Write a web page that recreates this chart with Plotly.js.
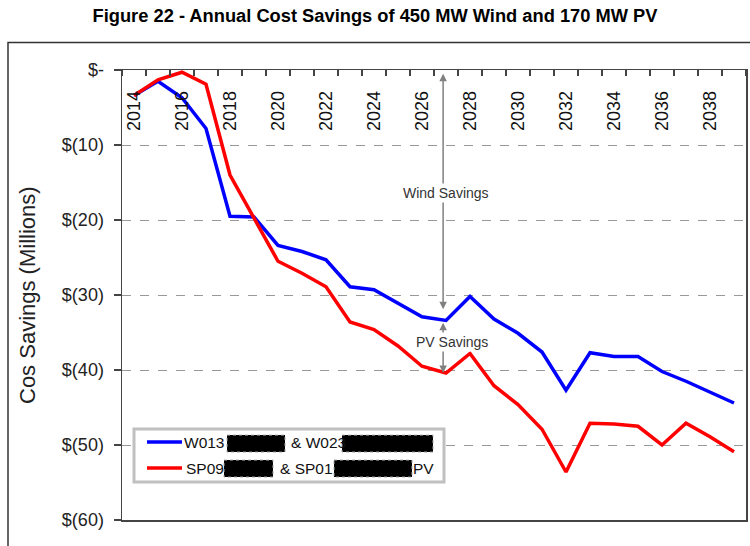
<!DOCTYPE html>
<html>
<head>
<meta charset="utf-8">
<script src="https://cdn.plot.ly/plotly-3.0.1.min.js"></script>
<style>
  html, body { margin: 0; padding: 0; background: #fff; }
  #chart { width: 750px; height: 546px; }
</style>
</head>
<body>
<div id="chart"></div>
<script>
// ---- data ----
const years = [2014, 2015, 2016, 2017, 2018, 2019, 2020, 2021, 2022, 2023, 2024, 2025, 2026,
               2027, 2028, 2029, 2030, 2031, 2032, 2033, 2034, 2035, 2036, 2037, 2038, 2039];
const windSavings = [-3.4, -1.5, -3.7, -7.8, -19.5, -19.6, -23.4, -24.2, -25.3, -28.9, -29.3, -31.1, -32.9,
                     -33.4, -30.2, -33.2, -35.1, -37.6, -42.7, -37.7, -38.2, -38.2, -40.2, -41.5, -42.9, -44.4];
const windPvSavings = [-3.4, -1.3, -0.3, -1.9, -14.0, -19.7, -25.5, -27.1, -28.9, -33.6, -34.6, -36.8, -39.5,
                       -40.4, -37.8, -42.1, -44.6, -47.9, -53.6, -47.1, -47.2, -47.5, -50.0, -47.1, -48.9, -50.9];
const xTickVals = [2014, 2016, 2018, 2020, 2022, 2024, 2026, 2028, 2030, 2032, 2034, 2036, 2038];
const xTickText = ['2014', '2016', '2018', '2020', '2022', '2024', '2026', '2028', '2030', '2032', '2034', '2036', '2038'];
const yTickVals = [0, -10, -20, -30, -40, -50, -60];
const yTickText = ['$-', '$(10)', '$(20)', '$(30)', '$(40)', '$(50)', '$(60)'];
const seriesNames = ['W013 & W023', 'SP09 & SP01 PV'];

// ---- geometry helpers ----
const W = 750, H = 546;
const L = 122, R = 746, T = 69.5, B = 520;
const pw = R - L, ph = B - T;
const px = v => (v - L) / pw;
const py = v => (B - v) / ph;

const FONT = 'Liberation Sans, Arial, sans-serif';

const traces = [
  { x: years, y: windSavings, name: seriesNames[0], type: 'scatter', mode: 'lines',
    line: { color: '#0000FF', width: 3.5 }, showlegend: false },
  { x: years, y: windPvSavings, name: seriesNames[1], type: 'scatter', mode: 'lines',
    line: { color: '#FF0000', width: 3.5 }, showlegend: false }
];

const shapes = [
  // outer frame
  { type: 'rect', xref: 'paper', yref: 'paper', x0: px(8), x1: px(760), y0: py(42), y1: py(560),
    line: { color: '#333', width: 1.5 }, layer: 'below' },
  // legend box
  { type: 'rect', xref: 'paper', yref: 'paper', x0: px(134), x1: px(444), y0: py(429), y1: py(482),
    line: { color: '#c0c0c0', width: 3 }, fillcolor: '#ffffff' },
  { type: 'line', xref: 'paper', yref: 'paper', x0: px(147), x1: px(182), y0: py(442), y1: py(442),
    line: { color: '#0000FF', width: 3.5 } },
  { type: 'line', xref: 'paper', yref: 'paper', x0: px(147), x1: px(182), y0: py(468), y1: py(468),
    line: { color: '#FF0000', width: 3.5 } },
  // redaction boxes
  { type: 'rect', xref: 'paper', yref: 'paper', x0: px(227), x1: px(285), y0: py(435), y1: py(452),
    line: { color: '#aaa', width: 1, dash: 'dot' }, fillcolor: '#000' },
  { type: 'rect', xref: 'paper', yref: 'paper', x0: px(342), x1: px(433), y0: py(435), y1: py(452),
    line: { color: '#aaa', width: 1, dash: 'dot' }, fillcolor: '#000' },
  { type: 'rect', xref: 'paper', yref: 'paper', x0: px(224), x1: px(273), y0: py(460), y1: py(477),
    line: { color: '#aaa', width: 1, dash: 'dot' }, fillcolor: '#000' },
  { type: 'rect', xref: 'paper', yref: 'paper', x0: px(334), x1: px(412), y0: py(460), y1: py(477),
    line: { color: '#aaa', width: 1, dash: 'dot' }, fillcolor: '#000' }
];

const legendText = (txt, x, y) => ({
  text: txt, xref: 'paper', yref: 'paper', x: px(x), y: py(y), xanchor: 'left', yanchor: 'middle',
  showarrow: false, font: { family: FONT, size: 15.5, color: '#111' }
});

const arrowX = 2026.88;
const annotations = [
  // Y axis title
  { text: 'Cos Savings (Millions)', xref: 'paper', yref: 'paper', x: px(27), y: 0.5, textangle: -90,
    showarrow: false, xanchor: 'center', yanchor: 'middle', font: { family: FONT, size: 22, color: '#222' } },
  // Wind savings double arrow
  { x: arrowX, y: -31.9, ax: arrowX, ay: -0.3, xref: 'x', yref: 'y', axref: 'x', ayref: 'y', text: '',
    showarrow: true, arrowhead: 2, startarrowhead: 2, arrowside: 'end+start', arrowsize: 1, startarrowsize: 1,
    arrowwidth: 1.5, arrowcolor: '#808080' },
  { x: 2027.0, y: -16.4, xref: 'x', yref: 'y', text: 'Wind Savings', showarrow: false, bgcolor: '#ffffff',
    font: { family: FONT, size: 14, color: '#333' } },
  // PV savings double arrow
  { x: arrowX, y: -40.4, ax: arrowX, ay: -33.5, xref: 'x', yref: 'y', axref: 'x', ayref: 'y', text: '',
    showarrow: true, arrowhead: 2, startarrowhead: 2, arrowside: 'end+start', arrowsize: 1, startarrowsize: 1,
    arrowwidth: 1.5, arrowcolor: '#808080' },
  { x: 2027.25, y: -36.3, xref: 'x', yref: 'y', text: 'PV Savings', showarrow: false, bgcolor: '#ffffff',
    font: { family: FONT, size: 14, color: '#333' } },
  // legend texts
  legendText('W013', 182, 442),
  legendText('& W023', 289, 442),
  legendText('SP09', 184, 468),
  legendText('& SP01', 278, 468),
  legendText('PV', 411, 468)
];

const layout = {
  width: W, height: H,
  margin: { l: L, r: W - R, t: T, b: H - B, pad: 0 },
  paper_bgcolor: '#ffffff', plot_bgcolor: '#ffffff',
  font: { family: FONT, color: '#222' },
  title: { text: '<b>Figure 22 - Annual Cost Savings of 450 MW Wind and 170 MW PV</b>',
    x: 0.5, xref: 'container', y: 1 - 16 / H, yref: 'container', xanchor: 'center', yanchor: 'middle',
    font: { family: FONT, size: 18.3, color: '#000' } },
  // main category axis: top line with boundary ticks
  xaxis: {
    side: 'top', range: [2013.5, 2039.5], showticklabels: false, ticks: '',
    showgrid: false, zeroline: false, showline: true, linecolor: '#444', linewidth: 1.5, mirror: true,
    minor: { tick0: 2013.5, dtick: 1, ticks: 'inside', ticklen: 6, tickcolor: '#444', tickwidth: 1.2, showgrid: false },
    fixedrange: true
  },
  // label axis: free-floating just under the top line, labels hang down inside the plot
  xaxis2: {
    overlaying: 'x', matches: 'x', side: 'bottom', anchor: 'free', position: py(84),
    range: [2013.5, 2039.5], tickmode: 'array', tickvals: xTickVals, ticktext: xTickText,
    tickangle: -90, ticks: '', ticklabelstandoff: 2,
    tickfont: { family: FONT, size: 18, color: '#111' },
    showgrid: false, zeroline: false, showline: false, fixedrange: true
  },
  yaxis: {
    range: [-60, 0], tickmode: 'array', tickvals: yTickVals, ticktext: yTickText,
    ticks: 'outside', ticklen: 7, tickcolor: '#444', tickwidth: 1.2,
    tickfont: { family: FONT, size: 18, color: '#222' }, ticklabelstandoff: 6,
    showgrid: true, gridcolor: '#999', gridwidth: 1, griddash: 'dash',
    zeroline: false, showline: true, linecolor: '#444', linewidth: 1.5, mirror: true,
    fixedrange: true
  },
  shapes: shapes,
  annotations: annotations,
  showlegend: false
};

// an invisible trace on the label axis so that it is drawn
traces.push({ x: years, y: windSavings, xaxis: 'x2', yaxis: 'y', type: 'scatter', mode: 'lines',
  line: { width: 0, color: 'rgba(0,0,0,0)' }, hoverinfo: 'skip', showlegend: false });

Plotly.newPlot('chart', traces, layout, { displayModeBar: false, staticPlot: true });
</script>
</body>
</html>
